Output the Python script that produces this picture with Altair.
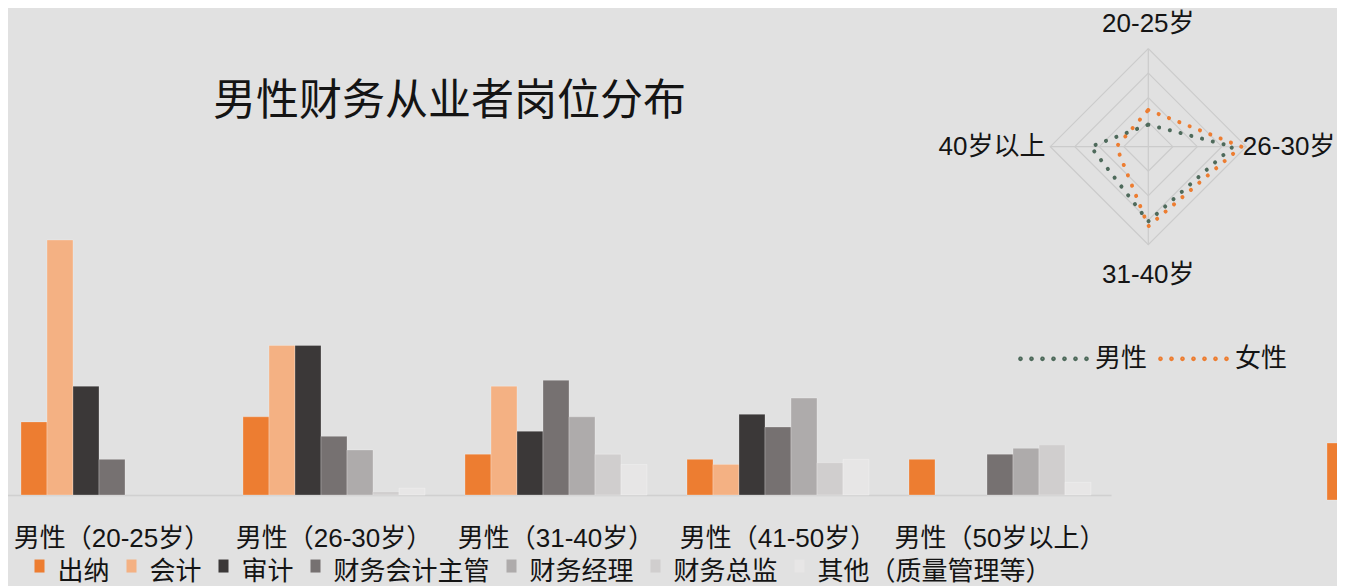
import altair as alt
import pandas as pd

FONT = "'Liberation Sans', 'Noto Sans CJK SC', sans-serif"
TEXT = "#141414"
BG = "#e1e1e1"

title_text = "男性财务从业者岗位分布"

# ---- grouped bar data (male) ----
groups = ["男性（20-25岁）", "男性（26-30岁）", "男性（31-40岁）", "男性（41-50岁）", "男性（50岁以上）"]
roles = ["出纳", "会计", "审计", "财务会计主管", "财务经理", "财务总监", "其他（质量管理等）"]
role_colors = ["#ED7D31", "#F4B183", "#3B3838", "#767171", "#AEABAB", "#D0CECE", "#E7E6E6"]

chuna = [8.6, 9.2, 4.8, 4.2, 4.2]
kuaiji = [30.0, 17.6, 12.8, 3.6, 0]
shenji = [12.8, 17.6, 7.5, 9.5, 0]
zhuguan = [4.2, 6.9, 13.5, 8.0, 4.8]
jingli = [0, 5.3, 9.2, 11.4, 5.5]
zongjian = [0, 0.4, 4.8, 3.8, 5.9]
qita = [0, 0.8, 3.6, 4.2, 1.5]

# ---- female chart fragment visible at the right edge ----
female_groups = ["女性（20-25岁）", "女性（26-30岁）", "女性（31-40岁）", "女性（41-50岁）", "女性（50岁以上）"]
female_chuna_visible = [6.7]

# ---- radar data ----
radar_axes = ["20-25岁", "26-30岁", "31-40岁", "40岁以上"]
radar_series = ["男性", "女性"]
radar_colors = ["#4E6A5B", "#ED7D31"]
male_share = [9.0, 34.5, 30.5, 23.5]
female_share = [15.0, 38.0, 32.5, 13.0]
ring_levels = [10, 20, 30, 40]
label_radius = [50.2, 38.6, 52.4, 42]
label_align = ["center", "left", "center", "right"]

# ---------------- tables ----------------
series_lists = [chuna, kuaiji, shenji, zhuguan, jingli, zongjian, qita]
bar_rows = []
for ri, role in enumerate(roles):
    for gi, g in enumerate(groups):
        bar_rows.append({"group": g, "role": role, "v": series_lists[ri][gi]})
df_bars = pd.DataFrame(bar_rows)

df_f = pd.DataFrame([{"group": female_groups[0], "role": roles[0], "v": female_chuna_visible[0]}])

radar_vals = {"男性": male_share, "女性": female_share}
rrows = []
for s in radar_series:
    for k in range(5):
        rrows.append({"series": s, "k": k, "idx": k % 4, "r": radar_vals[s][k % 4]})
df_radar = pd.DataFrame(rrows)

grows = []
for lv in ring_levels:
    for k in range(5):
        grows.append({"level": lv, "k": k, "idx": k % 4, "r": lv})
df_grid = pd.DataFrame(grows)

df_spokes = pd.DataFrame([{"idx": i, "r": ring_levels[-1]} for i in range(4)])
df_labels = pd.DataFrame([{"name": radar_axes[i], "idx": i, "r": label_radius[i], "al": label_align[i]} for i in range(4)])

# ---------------- styles ----------------
rect_path = "M-0.77,-1.92H0.77V0.08H-0.77Z"
rr = 1 / 35
centers = [(-33 + 11 * i) / 35 for i in range(7)]
dots_path = "".join(
    f"M{(c - rr):.4f},0a{rr:.4f},{rr:.4f} 0 1,0 {2*rr:.4f},0a{rr:.4f},{rr:.4f} 0 1,0 {-2*rr:.4f},0"
    for c in centers
)

rx = alt.Scale(domain=[-40, 40], range=[1042.3, 1238.3])
ry = alt.Scale(domain=[-40, 40], range=[236.7, 40.7])

polar = dict(ang="datum.idx * PI / 2", px="datum.r * sin(datum.ang)", py="datum.r * cos(datum.ang)")

# ---------------- layers ----------------
bars = alt.Chart(df_bars).transform_filter("datum.v > 0").mark_bar(
    stroke="white", strokeOpacity=0.25, strokeWidth=1
).encode(
    x=alt.X("group:N", sort=groups,
            scale=alt.Scale(domain=groups, range=[-7, 1103], paddingInner=0.18, paddingOuter=0.09),
            axis=alt.Axis(title=None, orient="bottom", domain=True, domainColor="#d0d0d0", domainWidth=1.5,
                          ticks=False, tickSize=0, grid=False, labelFont=FONT, labelFontSize=26,
                          labelColor=TEXT, labelPadding=43, labelBaseline="middle", labelAngle=0,
                          labelLimit=400, labelOverlap=False)),
    xOffset=alt.XOffset("role:N", sort=roles, scale=alt.Scale(domain=roles, paddingInner=0, paddingOuter=0)),
    y=alt.Y("v:Q", scale=alt.Scale(domain=[0, 30], range=[487, 232]), axis=None),
    color=alt.Color("role:N", sort=roles, scale=alt.Scale(domain=roles, range=role_colors),
                    legend=alt.Legend(title=None, orient="none", legendX=18.5, legendY=551,
                                      direction="horizontal", symbolType=rect_path, symbolSize=169,
                                      symbolStrokeWidth=0, symbolOpacity=1, labelFont=FONT,
                                      labelFontSize=26, labelColor=TEXT, labelOffset=5,
                                      columnPadding=8, labelLimit=400, padding=0)),
)

fbars = alt.Chart(df_f).mark_bar(stroke="white", strokeOpacity=0.25, strokeWidth=1).encode(
    x=alt.X("group:N", sort=female_groups,
            scale=alt.Scale(domain=female_groups, range=[1299, 2409], paddingInner=0.18, paddingOuter=0.09),
            axis=None),
    xOffset=alt.XOffset("role:N", sort=roles, scale=alt.Scale(domain=roles, paddingInner=0, paddingOuter=0)),
    y=alt.Y("v:Q", scale=alt.Scale(domain=[0, 30], range=[492, 237]), axis=None),
    color=alt.Color("role:N", scale=alt.Scale(domain=roles, range=role_colors), legend=None),
)

grid = alt.Chart(df_grid).transform_calculate(**polar).mark_line(color="#cbcbcb", strokeWidth=1.2).encode(
    x=alt.X("px:Q", scale=rx, axis=None),
    y=alt.Y("py:Q", scale=ry, axis=None),
    detail="level:N",
    order="k:Q",
)

spokes = alt.Chart(df_spokes).transform_calculate(
    ang="datum.idx * PI / 2", x1="datum.r * sin(datum.ang)", y1="datum.r * cos(datum.ang)", x0="0", y0="0"
).mark_rule(color="#cbcbcb", strokeWidth=1.2).encode(
    x=alt.X("x0:Q", scale=rx, axis=None), x2="x1:Q",
    y=alt.Y("y0:Q", scale=ry, axis=None), y2="y1:Q",
)

lines = alt.Chart(df_radar).transform_calculate(**polar).mark_line(
    strokeWidth=4, strokeDash=[0.1, 11], strokeCap="round"
).encode(
    x=alt.X("px:Q", scale=rx, axis=None),
    y=alt.Y("py:Q", scale=ry, axis=None),
    order="k:Q",
    color=alt.Color("series:N", sort=radar_series, scale=alt.Scale(domain=radar_series, range=radar_colors),
                    legend=alt.Legend(title=None, orient="none", legendX=1009, legendY=314,
                                      direction="horizontal", symbolType=dots_path, symbolSize=4900,
                                      symbolStrokeWidth=2.6, symbolDash=[1, 0], symbolOpacity=1,
                                      labelFont=FONT, labelFontSize=26, labelColor=TEXT, labelOffset=5,
                                      columnPadding=6, labelLimit=400, padding=0)),
)


def label_layer(al):
    return alt.Chart(df_labels).transform_filter(f"datum.al == '{al}'").transform_calculate(**polar).mark_text(
        font=FONT, fontSize=26, color=TEXT, align=al, baseline="middle"
    ).encode(
        x=alt.X("px:Q", scale=rx, axis=None),
        y=alt.Y("py:Q", scale=ry, axis=None),
        text="name:N",
    )


chart = alt.layer(
    bars, fbars, grid, spokes, lines, label_layer("center"), label_layer("left"), label_layer("right")
).resolve_scale(
    x="independent", y="independent", color="independent", xOffset="independent"
).resolve_legend(color="independent").properties(
    width=1329, height=487,
    padding={"left": 0, "top": 0, "right": 0, "bottom": 91},
    autosize=alt.AutoSizeParams(type="none"),
    background=BG,
    title=alt.TitleParams(text=title_text, anchor="start", frame="group", orient="top", offset=0,
                          dx=205, dy=137, baseline="middle", fontSize=43, fontWeight="normal",
                          font=FONT, color=TEXT),
).configure_view(stroke=None)

chart.save("out.html", embed_options={"renderer": "svg", "actions": False})
